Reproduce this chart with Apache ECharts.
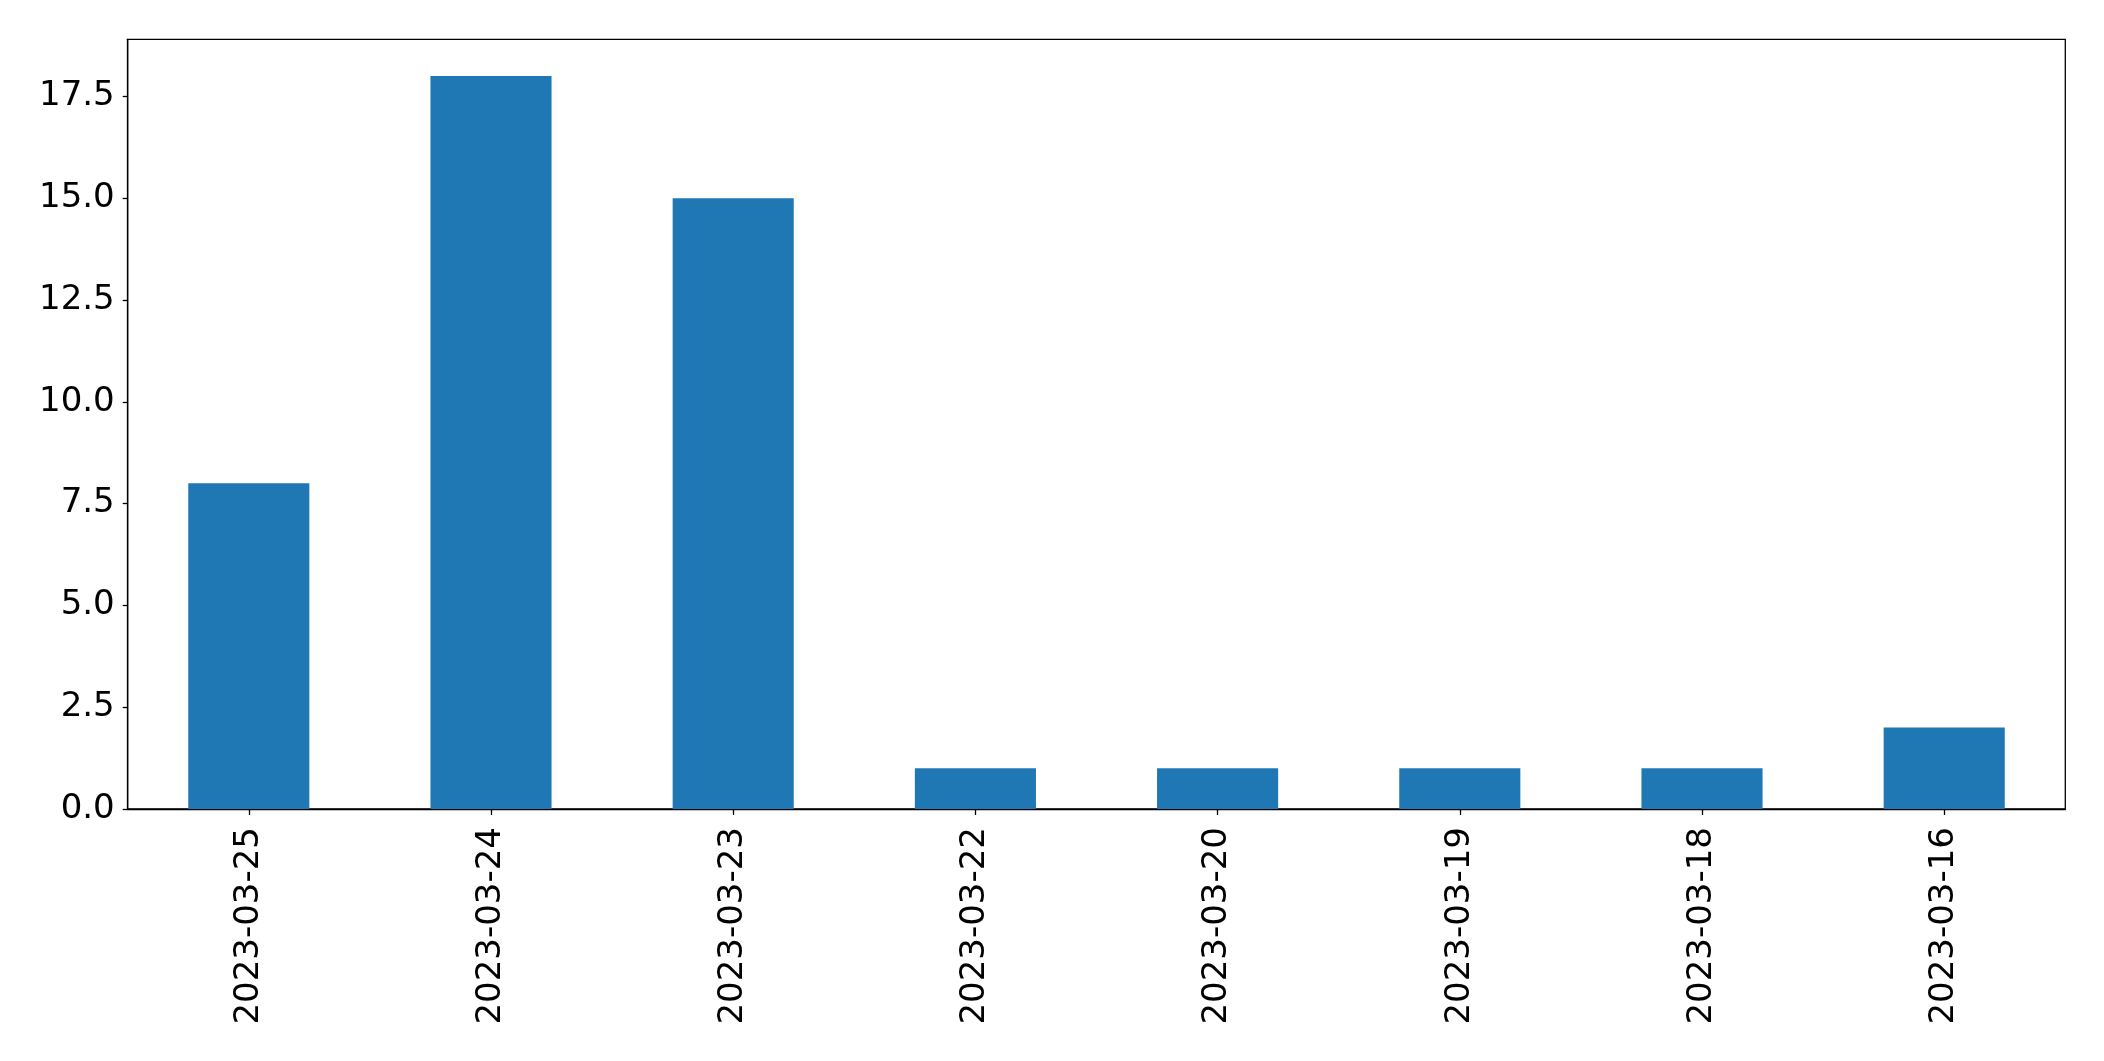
<!DOCTYPE html>
<html>
<head>
<meta charset="utf-8">
<script src="https://cdn.jsdelivr.net/npm/echarts@6/dist/echarts.min.js"></script>
<style>
html,body{margin:0;padding:0;background:#fff;}
#chart{width:2104px;height:1061px;}
</style>
</head>
<body>
<div id="chart"></div>
<script>
const categories = ['2023-03-25','2023-03-24','2023-03-23','2023-03-22','2023-03-20','2023-03-19','2023-03-18','2023-03-16'];
const values = [8, 18, 15, 1, 1, 1, 1, 2];
const yTicks = [0, 2.5, 5, 7.5, 10, 12.5, 15, 17.5];
const yMax = 18.9;

const chart = echarts.init(document.getElementById('chart'), null, {renderer:'canvas'});
const font = 'DejaVu Sans';
chart.setOption({
  animation: false,
  backgroundColor: '#ffffff',
  grid: {
    left: 127.7, top: 39.3, right: 38.7, bottom: 252,
    show: true, borderColor: '#000', borderWidth: 1.3, backgroundColor: 'transparent'
  },
  xAxis: {
    type: 'category',
    data: categories,
    axisLine: {lineStyle: {color: '#000', width: 1.3}},
    axisTick: {show: true, alignWithLabel: true, length: 6, lineStyle: {color: '#000', width: 1.3}},
    axisLabel: {rotate: 90, color: '#000', fontFamily: font, fontSize: 34, margin: 18, interval: 0},
    splitLine: {show: false}
  },
  yAxis: {
    type: 'value',
    min: 0, max: yMax,
    axisLine: {show: true, lineStyle: {color: '#000', width: 1.3}},
    axisTick: {show: true, length: 5, lineStyle: {color: '#000', width: 1.3}, customValues: yTicks},
    axisLabel: {color: '#000', fontFamily: font, fontSize: 34, margin: 13,
      customValues: yTicks,
      formatter: v => Number(v).toFixed(1)},
    splitLine: {show: false}
  },
  series: [{
    type: 'bar',
    data: values,
    barWidth: '50%',
    itemStyle: {color: '#1f77b4'}
  }]
});
</script>
</body>
</html>
